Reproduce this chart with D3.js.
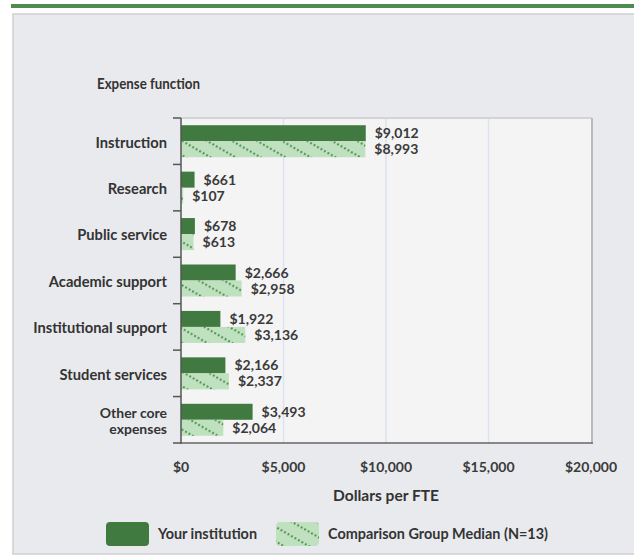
<!DOCTYPE html>
<html><head><meta charset="utf-8">
<script src="https://cdn.jsdelivr.net/npm/d3@7"></script>
<style>
html,body{margin:0;padding:0;background:#fff;}
svg{display:block;font-family:Lato,"Open Sans",sans-serif;}
</style></head>
<body><svg id="c" width="634" height="556"></svg>
<script>
const categories = ["Instruction","Research","Public service","Academic support","Institutional support","Student services","Other core expenses"];
const categoryLines = [["Instruction"],["Research"],["Public service"],["Academic support"],["Institutional support"],["Student services"],["Other core","expenses"]];
const yourInstitution = [9012,661,678,2666,1922,2166,3493];
const comparisonMedian = [8993,107,613,2958,3136,2337,2064];
const xTicks = [0,5000,10000,15000,20000];
const seriesNames = ["Your institution","Comparison Group Median (N=13)"];

const svg = d3.select("#c");

function fitSize(sample, target){
  const t = svg.append("text").attr("font-size",100).attr("font-weight",700).text(sample);
  const w = t.node().getComputedTextLength();
  t.remove();
  return 100*target/w;
}
const catSize = fitSize("Institutional support",134);
const valSize = fitSize("$9,012",44);
const tickSize = fitSize("$20,000",52);

const defs = svg.append("defs");
const pat = defs.append("pattern").attr("id","dots").attr("patternUnits","userSpaceOnUse")
  .attr("width",12).attr("height",12.5).attr("patternTransform","rotate(30)");
pat.append("rect").attr("width",12).attr("height",12.5).attr("fill","#bfe1bf");
pat.append("line").attr("x1",0).attr("x2",12).attr("y1",6).attr("y2",6)
  .attr("stroke","#3f883f").attr("stroke-width",2).attr("stroke-dasharray","1.8,2.2");

svg.append("rect").attr("x",11).attr("y",4).attr("width",623).attr("height",4).attr("fill","#4f8a4e");
svg.append("rect").attr("x",13).attr("y",14).attr("width",630).attr("height",540).attr("fill","#e9eaee").attr("stroke","#cfd0d4").attr("stroke-width",1.5);

const L=181, R=591, T=118, B=443;
const x = d3.scaleLinear().domain([0,20000]).range([L,R]);
const y = d3.scaleBand().domain(categories).range([T,B]).padding(0);
const barH = 16;

svg.append("rect").attr("x",L).attr("y",T).attr("width",R-L+1).attr("height",B-T).attr("fill","#f4f4f4");
svg.append("line").attr("x1",L).attr("x2",R+1).attr("y1",T).attr("y2",T).attr("stroke","#d4d4d8").attr("stroke-width",2);
svg.append("line").attr("x1",R+1).attr("x2",R+1).attr("y1",T).attr("y2",B).attr("stroke","#b9bac0").attr("stroke-width",2);

svg.append("g").selectAll("line").data(xTicks.slice(1,-1)).join("line")
  .attr("x1",d=>x(d)).attr("x2",d=>x(d)).attr("y1",T+1).attr("y2",B)
  .attr("stroke","#dde3ee").attr("stroke-width",1.5);

const rows = categories.map((c,i)=>({c,i,a:yourInstitution[i],b:comparisonMedian[i]}));
const g = svg.append("g");
g.selectAll(".a").data(rows).join("rect")
  .attr("x",L).attr("y",d=>y(d.c)+y.bandwidth()/2-barH).attr("width",d=>x(d.a)-L).attr("height",barH)
  .attr("fill","#417a41");
g.selectAll(".b").data(rows).join("rect")
  .attr("x",L).attr("y",d=>y(d.c)+y.bandwidth()/2).attr("width",d=>x(d.b)-L).attr("height",barH)
  .attr("fill","url(#dots)");

const fmt = d=>"$"+d3.format(",")(d);
g.selectAll(".la").data(rows).join("text")
  .attr("x",d=>x(d.a)+9).attr("y",d=>y(d.c)+y.bandwidth()/2-barH/2).attr("dy","0.36em")
  .attr("font-size",valSize).attr("font-weight",700).attr("fill","#3a3a3a").text(d=>fmt(d.a));
g.selectAll(".lb").data(rows).join("text")
  .attr("x",d=>x(d.b)+9).attr("y",d=>y(d.c)+y.bandwidth()/2+barH/2).attr("dy","0.36em")
  .attr("font-size",valSize).attr("font-weight",700).attr("fill","#3a3a3a").text(d=>fmt(d.b));

svg.append("line").attr("x1",L).attr("x2",L).attr("y1",T).attr("y2",B+1).attr("stroke","#555").attr("stroke-width",1.5);
svg.append("line").attr("x1",L).attr("x2",R+2).attr("y1",B).attr("y2",B).attr("stroke","#666").attr("stroke-width",1.5);
const bounds = categories.map(c=>y(c)).concat([B]);
svg.append("g").selectAll("line").data(bounds).join("line")
  .attr("x1",L-8).attr("x2",L).attr("y1",d=>d).attr("y2",d=>d).attr("stroke","#555").attr("stroke-width",1.5);

const cl = svg.append("g").selectAll("text").data(rows).join("text")
  .attr("x",167).attr("y",d=>y(d.c)+y.bandwidth()/2+1).attr("text-anchor","end")
  .attr("font-size",d=>categoryLines[d.i].length>1 ? catSize*0.95 : catSize).attr("font-weight",700).attr("fill","#333");
cl.each(function(d){
  const lines = categoryLines[d.i];
  const t = d3.select(this);
  lines.forEach((s,k)=>{
    t.append("tspan").attr("x",167).attr("dy", k===0 ? (0.36-(lines.length-1)*0.58)+"em" : "1.16em").text(s);
  });
});

svg.append("g").selectAll("text").data(xTicks).join("text")
  .attr("x",d=>x(d)).attr("y",467).attr("dy","0.36em").attr("text-anchor","middle")
  .attr("font-size",tickSize).attr("font-weight",700).attr("fill","#3a3a3a").text(fmt);

function fitted(sel, target){
  sel.attr("textLength",target).attr("lengthAdjust","spacingAndGlyphs");
  return sel;
}
fitted(svg.append("text").attr("x",97).attr("y",84).attr("dy","0.36em").attr("font-size",catSize).attr("font-weight",700).attr("fill","#333").text("Expense function"),103);
fitted(svg.append("text").attr("x",333).attr("y",496).attr("dy","0.36em").attr("font-size",catSize).attr("font-weight",700).attr("fill","#333").text("Dollars per FTE"),106);

const lg = svg.append("g");
lg.append("rect").attr("x",106).attr("y",522).attr("width",43).attr("height",24).attr("rx",4).attr("fill","#417a41");
fitted(lg.append("text").attr("x",158).attr("y",534).attr("dy","0.36em").attr("font-size",catSize).attr("font-weight",700).attr("fill","#333").text(seriesNames[0]),99);
lg.append("rect").attr("x",276).attr("y",522).attr("width",43).attr("height",24).attr("rx",4).attr("fill","url(#dots)");
fitted(lg.append("text").attr("x",328).attr("y",534).attr("dy","0.36em").attr("font-size",catSize).attr("font-weight",700).attr("fill","#333").text(seriesNames[1]),220);
</script></body></html>
